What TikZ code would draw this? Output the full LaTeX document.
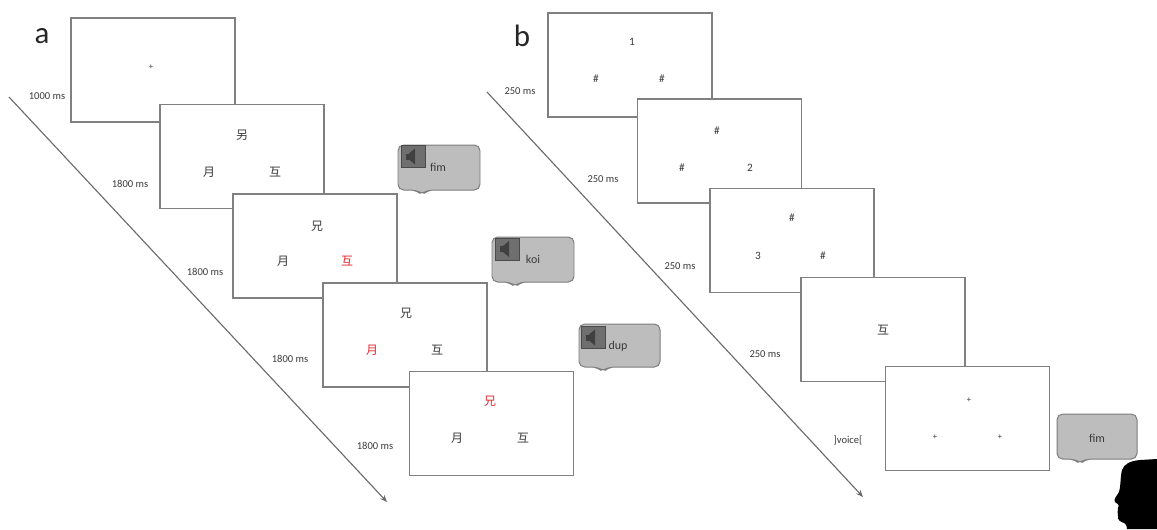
\documentclass[tikz,border=0pt]{standalone}
\usepackage{fontspec}
\setmainfont{Carlito}
\newfontfamily\cjk{Noto Sans CJK SC}
\usetikzlibrary{arrows.meta}
\definecolor{framegray}{HTML}{808080}
\definecolor{txtgray}{HTML}{3A3A3A}
\definecolor{hlred}{HTML}{E3262B}
\definecolor{bubfill}{HTML}{BDBDBD}
\definecolor{bubline}{HTML}{7C7C7C}
\definecolor{iconfill}{HTML}{6F6F6F}
\definecolor{iconline}{HTML}{4A4A4A}
\definecolor{axisgray}{HTML}{6A6A6A}

% speech bubble: left, top, right, bottom, x of the tail
\newcommand\speechbubble[5]{%
  \path[bubble] (#1,{(#2+#4)/2}) -- (#1,#4) -- ({#5-6},#4) -- (#5,{#4+5})
    -- ({#5+6},#4) -- (#3,#4) -- (#3,#2) -- (#1,#2) -- cycle;}

\begin{document}
\begin{tikzpicture}[x=0.025cm,y=-0.025cm,
  screen/.style={draw=framegray,line width=0.9pt,fill=white,
    minimum width=4.1cm,minimum height=2.6cm,inner sep=0},
  dur/.style={font=\fontsize{7.5}{8}\selectfont,text=txtgray,inner sep=0},
  glyph/.style={font=\cjk\fontsize{8.5}{9}\selectfont,text=txtgray,inner sep=0},
  digit/.style={font=\fontsize{8}{9}\selectfont,text=txtgray,inner sep=0},
  fix/.style={font=\fontsize{6}{6}\selectfont,text=txtgray,inner sep=0},
  panel/.style={font=\fontsize{22}{24}\selectfont,text=black!85,inner sep=0},
  timeline/.style={draw=axisgray,line width=0.8pt,-{Stealth[length=5pt,width=4pt]}},
  bubble/.style={draw=bubline,fill=bubfill,line width=0.7pt,rounded corners=4pt},
  word/.style={font=\fontsize{8.5}{9}\selectfont,text=txtgray,inner sep=0},
  icon/.style={draw=iconline,fill=iconfill,line width=0.6pt,
    minimum width=0.6cm,minimum height=0.55cm,inner sep=0},
  speaker/.pic={
    \fill[black!75] (-7,-3) rectangle (-4,3);
    \fill[black!75] (-4,-3) -- (2,-8) -- (2,8) -- (-4,3) -- cycle;
  },
]
\useasboundingbox (0,0) rectangle (1157,529);

% ---------------- panel a ----------------
\node[panel] (pa) at (42,36) {a};

\coordinate (ta0) at (9,97);
\coordinate (ta1) at (387,502);
\draw[timeline] (ta0) -- (ta1);

\node[dur] (da1) at (47,96)  {1000 ms};
\node[dur] (da2) at (130,184) {1800 ms};
\node[dur] (da3) at (205,272) {1800 ms};
\node[dur] (da4) at (290,359) {1800 ms};
\node[dur] (da5) at (375,446) {1800 ms};

\node[screen] (fa1) at (153,70) {};
\node[fix] (fa1c) at (151,67) {+};

\node[screen] (fa2) at (242,156.5) {};
\node[glyph] (fa2t) at (242,135) {另};
\node[glyph] (fa2l) at (209,172) {月};
\node[glyph] (fa2r) at (275,172) {互};

\node[screen] (fa3) at (315,246) {};
\node[glyph] (fa3t) at (317,226) {兄};
\node[glyph] (fa3l) at (283,261) {月};
\node[glyph,text=hlred] (fa3r) at (347,261) {互};

\node[screen] (fa4) at (405,335) {};
\node[glyph] (fa4t) at (406,313) {兄};
\node[glyph,text=hlred] (fa4l) at (372,350) {月};
\node[glyph] (fa4r) at (437,350) {互};

\node[screen] (fa5) at (491.5,423.5) {};
\node[glyph,text=hlred] (fa5t) at (490,401) {兄};
\node[glyph] (fa5l) at (457,438) {月};
\node[glyph] (fa5r) at (523,438) {互};

% spoken responses
\speechbubble{398}{145}{480}{190}{422}
\node[icon] (ia1) at (413,156.5) {};
\pic at (ia1) {speaker};
\node[word] (wa1) at (438,167) {fim};

\speechbubble{492}{237}{574}{282}{515}
\node[icon] (ia2) at (507,249) {};
\pic at (ia2) {speaker};
\node[word] (wa2) at (533,259) {koi};

\speechbubble{579}{324}{660}{367}{603}
\node[icon] (ia3) at (593,337.5) {};
\pic at (ia3) {speaker};
\node[word] (wa3) at (618,346) {dup};

% ---------------- panel b ----------------
\node[panel] (pb) at (522,36) {b};

\coordinate (tb0) at (487,92);
\coordinate (tb1) at (863,497);
\draw[timeline] (tb0) -- (tb1);

\node[dur] (db1) at (520,91)  {250 ms};
\node[dur] (db2) at (603,179) {250 ms};
\node[dur] (db3) at (680,266) {250 ms};
\node[dur] (db4) at (765,354) {250 ms};
\node[dur] (db5) at (848,440) {]voice[};

\node[screen] (fb1) at (630,65) {};
\node[digit] (fb1t) at (632,42) {1};
\node[digit] (fb1l) at (596,79) {\#};
\node[digit] (fb1r) at (662,79) {\#};

\node[screen] (fb2) at (719.5,151) {};
\node[digit] (fb2t) at (717,131) {\#};
\node[digit] (fb2l) at (682,168) {\#};
\node[digit] (fb2r) at (750,168) {2};

\node[screen] (fb3) at (792,240.5) {};
\node[digit] (fb3t) at (792,218) {\#};
\node[digit] (fb3l) at (758,256) {3};
\node[digit] (fb3r) at (823,256) {\#};

\node[screen] (fb4) at (883,329.5) {};
\node[glyph] (fb4c) at (883,330) {互};

\node[screen] (fb5) at (967.5,418.5) {};
\node[fix] (fb5t) at (969,400) {+};
\node[fix] (fb5l) at (935,437) {+};
\node[fix] (fb5r) at (1000,437) {+};

\speechbubble{1057}{414}{1137}{459}{1080}
\node[word] (wb1) at (1097,438) {fim};

% speaker's head in profile
\fill[black] (1157,459) -- (1140,460) .. controls (1130,461) and (1124,464) .. (1122,470)
  .. controls (1120,478) and (1121,486) .. (1119,492)
  .. controls (1117,496) and (1113,499) .. (1115,502)
  .. controls (1117,504) and (1120,504) .. (1118,508)
  .. controls (1116,511) and (1119,513) .. (1118,516)
  .. controls (1117,520) and (1121,522) .. (1124,523)
  .. controls (1127,525) and (1127,528) .. (1127,529)
  -- (1157,529) -- cycle;
\end{tikzpicture}
\end{document}
